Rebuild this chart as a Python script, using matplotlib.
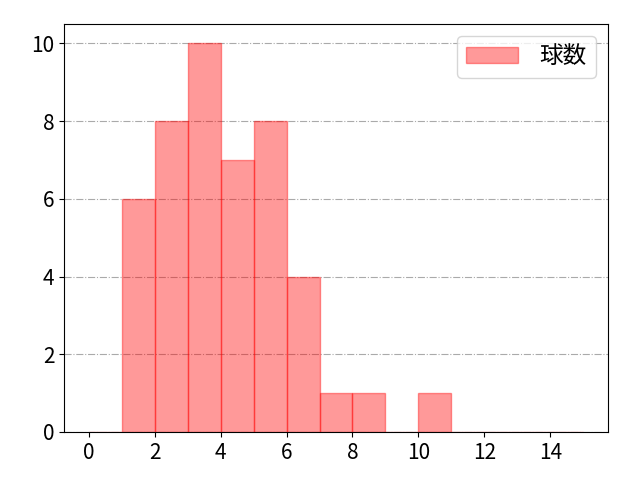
import numpy as np
import matplotlib.pyplot as plt

plt.rcParams['font.family'] = ['Noto Sans CJK JP', 'DejaVu Sans']

bin_edges = np.arange(0, 16)
counts = [0, 6, 8, 10, 7, 8, 4, 1, 1, 0, 1, 0, 0, 0, 0]
label = '球数'

fig, ax = plt.subplots(figsize=(6.4, 4.8), dpi=100)
fig.subplots_adjust(left=0.1, right=0.95, top=0.95, bottom=0.1)

ax.hist(bin_edges[:-1], bins=bin_edges, weights=counts,
        color='red', alpha=0.4, edgecolor='red', linewidth=1, label=label)
ax.grid(axis='y', linestyle='-.', color='#aaaaaa')
ax.set_axisbelow(True)
ax.set_xticks(np.arange(0, 15, 2))
ax.tick_params(labelsize=15)
ax.legend(fontsize=17, loc='upper right', handlelength=2.2, handletextpad=0.9)

fig.savefig('out.png')
